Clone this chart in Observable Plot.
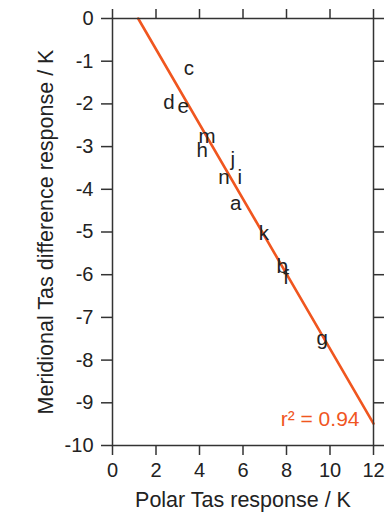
<!DOCTYPE html>
<html>
<head>
<meta charset="utf-8">
<script src="https://cdn.jsdelivr.net/npm/d3@7"></script>
<script src="https://cdn.jsdelivr.net/npm/@observablehq/plot@0.6"></script>
<style>
  html, body { margin: 0; padding: 0; background: #fff; }
  #chart svg { display: block; }
</style>
</head>
<body>
<div id="chart"></div>
<script>
// Data
const models = ["a", "b", "c", "d", "e", "f", "g", "h", "i", "j", "k", "m", "n"];
const polarTas = [5.66, 7.80, 3.51, 2.59, 3.25, 7.98, 9.64, 4.12, 5.85, 5.53, 6.96, 4.35, 5.12];
const meridionalTas = [-4.34, -5.80, -1.18, -1.96, -2.06, -6.06, -7.50, -3.09, -3.73, -3.31, -5.04, -2.76, -3.72];

// Regression fit
const fitSlope = -0.877;
const fitIntercept = 1.035;
const rSquared = "0.94";

const xTicks = [0, 2, 4, 6, 8, 10, 12];
const yTicks = [0, -1, -2, -3, -4, -5, -6, -7, -8, -9, -10];
const xDomain = [0, 12];
const yDomain = [-10, 0];
const xLabel = "Polar Tas response / K";
const yLabel = "Meridional Tas difference response / K";

const points = models.map((m, i) => ({model: m, x: polarTas[i], y: meridionalTas[i]}));

// fitted line from where it enters the frame (y = 0) to the right edge (x = 12)
const xStart = (yDomain[1] - fitIntercept) / fitSlope;
const fitLine = [xStart, xDomain[1]].map(x => ({x, y: fitIntercept + fitSlope * x}));

const orange = "#f0561f";
const ink = "#222";

const chart = Plot.plot({
  width: 389,
  height: 518,
  marginLeft: 112,
  marginRight: 16,
  marginTop: 18,
  marginBottom: 73,
  style: {fontFamily: "'Liberation Sans', Arial, sans-serif", fontSize: "20px", color: ink, background: "#fff"},
  x: {domain: xDomain},
  y: {domain: yDomain},
  marks: [
    Plot.line(fitLine, {x: "x", y: "y", stroke: orange, strokeWidth: 2.6}),
    Plot.text(points, {x: "x", y: "y", text: "model", fill: ink, fontSize: 20.5}),
    Plot.text([`r² = ${rSquared}`], {frameAnchor: "bottom-right", dx: -14, dy: -20, textAnchor: "end", fill: orange, fontSize: 21}),
    Plot.frame({stroke: "#333", strokeWidth: 1.5}),
    Plot.axisX({anchor: "bottom", ticks: xTicks, tickSize: 10, tickPadding: 7, tickFormat: d => String(d), fontSize: 20, label: null, strokeWidth: 1.5, stroke: "#333"}),
    Plot.axisX({anchor: "top", ticks: xTicks, tickSize: 10, tickFormat: () => "", label: null, strokeWidth: 1.5, stroke: "#333"}),
    Plot.axisY({anchor: "left", ticks: yTicks, tickSize: 11, tickPadding: 8, tickFormat: d => String(d), fontSize: 20, label: null, strokeWidth: 1.5, stroke: "#333"}),
    Plot.axisY({anchor: "right", ticks: yTicks, tickSize: 10, tickFormat: () => "", label: null, strokeWidth: 1.5, stroke: "#333"}),
    Plot.text([xLabel], {frameAnchor: "bottom", dy: 55, lineAnchor: "middle", fontSize: 21.5, fill: ink}),
    Plot.text([yLabel], {frameAnchor: "left", dx: -66, rotate: -90, textAnchor: "middle", lineAnchor: "middle", fontSize: 21.5, fill: ink})
  ]
});

document.getElementById("chart").appendChild(chart);
</script>
</body>
</html>
